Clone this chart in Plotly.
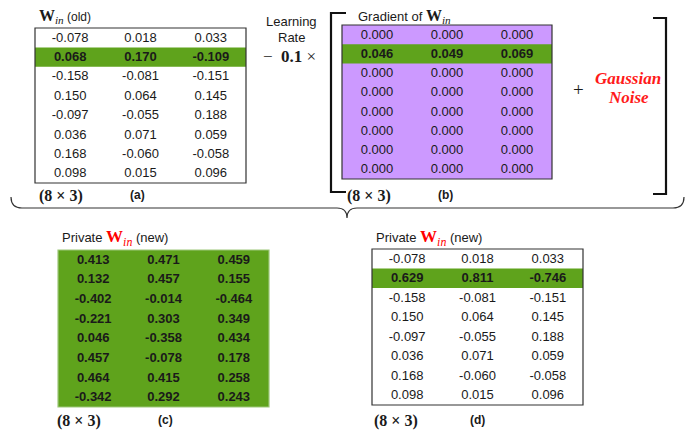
import plotly.graph_objects as go

# ---------------- data ----------------
w_old = [
    [-0.078, 0.018, 0.033],
    [0.068, 0.170, -0.109],
    [-0.158, -0.081, -0.151],
    [0.150, 0.064, 0.145],
    [-0.097, -0.055, 0.188],
    [0.036, 0.071, 0.059],
    [0.168, -0.060, -0.058],
    [0.098, 0.015, 0.096],
]
grad_w = [
    [0.000, 0.000, 0.000],
    [0.046, 0.049, 0.069],
    [0.000, 0.000, 0.000],
    [0.000, 0.000, 0.000],
    [0.000, 0.000, 0.000],
    [0.000, 0.000, 0.000],
    [0.000, 0.000, 0.000],
    [0.000, 0.000, 0.000],
]
w_new_c = [
    [0.413, 0.471, 0.459],
    [0.132, 0.457, 0.155],
    [-0.402, -0.014, -0.464],
    [-0.221, 0.303, 0.349],
    [0.046, -0.358, 0.434],
    [0.457, -0.078, 0.178],
    [0.464, 0.415, 0.258],
    [-0.342, 0.292, 0.243],
]
w_new_d = [
    [-0.078, 0.018, 0.033],
    [0.629, 0.811, -0.746],
    [-0.158, -0.081, -0.151],
    [0.150, 0.064, 0.145],
    [-0.097, -0.055, 0.188],
    [0.036, 0.071, 0.059],
    [0.168, -0.060, -0.058],
    [0.098, 0.015, 0.096],
]
learning_rate = 0.1
panel_labels = ["(a)", "(b)", "(c)", "(d)"]
shape_label = "(8 × 3)"

# ---------------- styling / layout ----------------
GREEN = "#5fa31c"
PURPLE = "#cc99ff"
SANS = "Liberation Sans, Arial, sans-serif"
SERIF = "Liberation Serif, Times New Roman, serif"
WIN = "<b>W</b><sub><i>in</i></sub>"

# the page body has an 8px margin; the coordinate frame below is in window pixels
PAGE_OFF = 8
WIN_W, WIN_H = 694, 439

panels = [
    dict(vals=w_old, x0=35, x1=246, y0=28, y1=183, bg="white", hl=1, border="#333333"),
    dict(vals=grad_w, x0=342, x1=552, y0=25, y1=179, bg=PURPLE, hl=1, border="#333333"),
    dict(vals=w_new_c, x0=58, x1=269, y0=250, y1=407, bg=GREEN, hl="all", border="#9dc77a"),
    dict(vals=w_new_d, x0=372, x1=583, y0=249, y1=405, bg="white", hl=1, border="#333333"),
]

fig = go.Figure()
shapes = []
annotations = []

for p in panels:
    vals = p["vals"]
    nr, nc = len(vals), len(vals[0])
    rh = (p["y1"] - p["y0"]) / nr
    cw = (p["x1"] - p["x0"]) / nc
    shapes.append(dict(type="rect", xref="x", yref="y", x0=p["x0"], x1=p["x1"],
                       y0=p["y0"], y1=p["y1"], fillcolor=p["bg"], line=dict(width=0),
                       layer="below"))
    if p["hl"] != "all":
        r = p["hl"]
        shapes.append(dict(type="rect", xref="x", yref="y", x0=p["x0"], x1=p["x1"],
                           y0=p["y0"] + r * rh, y1=p["y0"] + (r + 1) * rh,
                           fillcolor=GREEN, line=dict(width=0), layer="below"))
    shapes.append(dict(type="rect", xref="x", yref="y", x0=p["x0"], x1=p["x1"],
                       y0=p["y0"], y1=p["y1"], fillcolor="rgba(0,0,0,0)",
                       line=dict(color=p["border"], width=1.2)))
    xs, ys, ts = [], [], []
    for i, row in enumerate(vals):
        for j, v in enumerate(row):
            xs.append(p["x0"] + (j + 0.5) * cw)
            ys.append(p["y0"] + (i + 0.5) * rh + 0.8)
            s = f"{v:.3f}"
            if p["hl"] == "all" or p["hl"] == i:
                s = f"<b>{s}</b>"
            ts.append(s)
    fig.add_trace(go.Scatter(x=xs, y=ys, text=ts, mode="text",
                             textfont=dict(family=SANS, size=13, color="#1a1a1a"),
                             hoverinfo="skip", showlegend=False))

def ann(x, y, text, size=13, family=SANS, color="#1a1a1a", xanchor="left"):
    annotations.append(dict(x=x, y=y, xref="x", yref="y", text=text, showarrow=False,
                            xanchor=xanchor, yanchor="middle",
                            font=dict(family=family, size=size, color=color)))

# titles
ann(37, 16, f"<span style='font-family:{SERIF};font-size:16px'>{WIN}</span> (old)", size=12)
ann(356, 16, f"Gradient of <span style='font-family:{SERIF};font-size:16px'>{WIN}</span>", size=13)
ann(60, 238, f"Private <span style='font-family:{SERIF};font-size:17px;color:#ff0000'>{WIN}</span> (new)", size=13)
ann(374, 238, f"Private <span style='font-family:{SERIF};font-size:17px;color:#ff0000'>{WIN}</span> (new)", size=13)

# shape labels and panel letters
for (x, y), lab in zip([(37, 196), (345, 196), (55, 421), (372, 421)], [shape_label] * 4):
    ann(x, y, f"<b>{lab}</b>", size=16, family=SERIF)
for (x, y), lab in zip([(137, 195), (445, 195), (165, 420), (477, 420)], panel_labels):
    ann(x, y, f"<b>{lab}</b>", size=12, xanchor="center")

# learning rate
ann(291, 21, "Learning", size=13, xanchor="center")
ann(291, 37, "Rate", size=13, xanchor="center")
ann(289, 56, f"−  <b>{learning_rate}</b> ×", size=17, family=SERIF, xanchor="center")

# plus gaussian noise
ann(578, 89, "+", size=19, family=SERIF, xanchor="center")
ann(628, 78, "<b><i>Gaussian</i></b>", size=17, family=SERIF, color="#ff1a1a", xanchor="center")
ann(628, 97, "<b><i>Noise</i></b>", size=17, family=SERIF, color="#ff1a1a", xanchor="center")

# brackets
blk = dict(color="#111111", width=2.2)
shapes.append(dict(type="path", xref="x", yref="y",
                   path="M 346,13 L 331,13 L 331,192 L 346,192", line=blk))
shapes.append(dict(type="path", xref="x", yref="y",
                   path="M 653,18 L 666,18 L 666,194 L 653,194", line=blk))

# curly brace
shapes.append(dict(type="path", xref="x", yref="y",
                   path=("M 11,197 Q 11,208 22,208 L 337,208 Q 347,208 347,218 "
                         "Q 347,208 357,208 L 673,208 Q 684,208 684,197"),
                   line=dict(color="#333333", width=1.2)))

fig.update_layout(
    width=WIN_W - PAGE_OFF, height=WIN_H - PAGE_OFF,
    margin=dict(l=0, r=0, t=0, b=0),
    paper_bgcolor="white", plot_bgcolor="white",
    xaxis=dict(range=[PAGE_OFF, WIN_W], visible=False, fixedrange=True),
    yaxis=dict(range=[WIN_H, PAGE_OFF], visible=False, fixedrange=True),
    shapes=shapes, annotations=annotations,
)
fig.write_html("out.html")
